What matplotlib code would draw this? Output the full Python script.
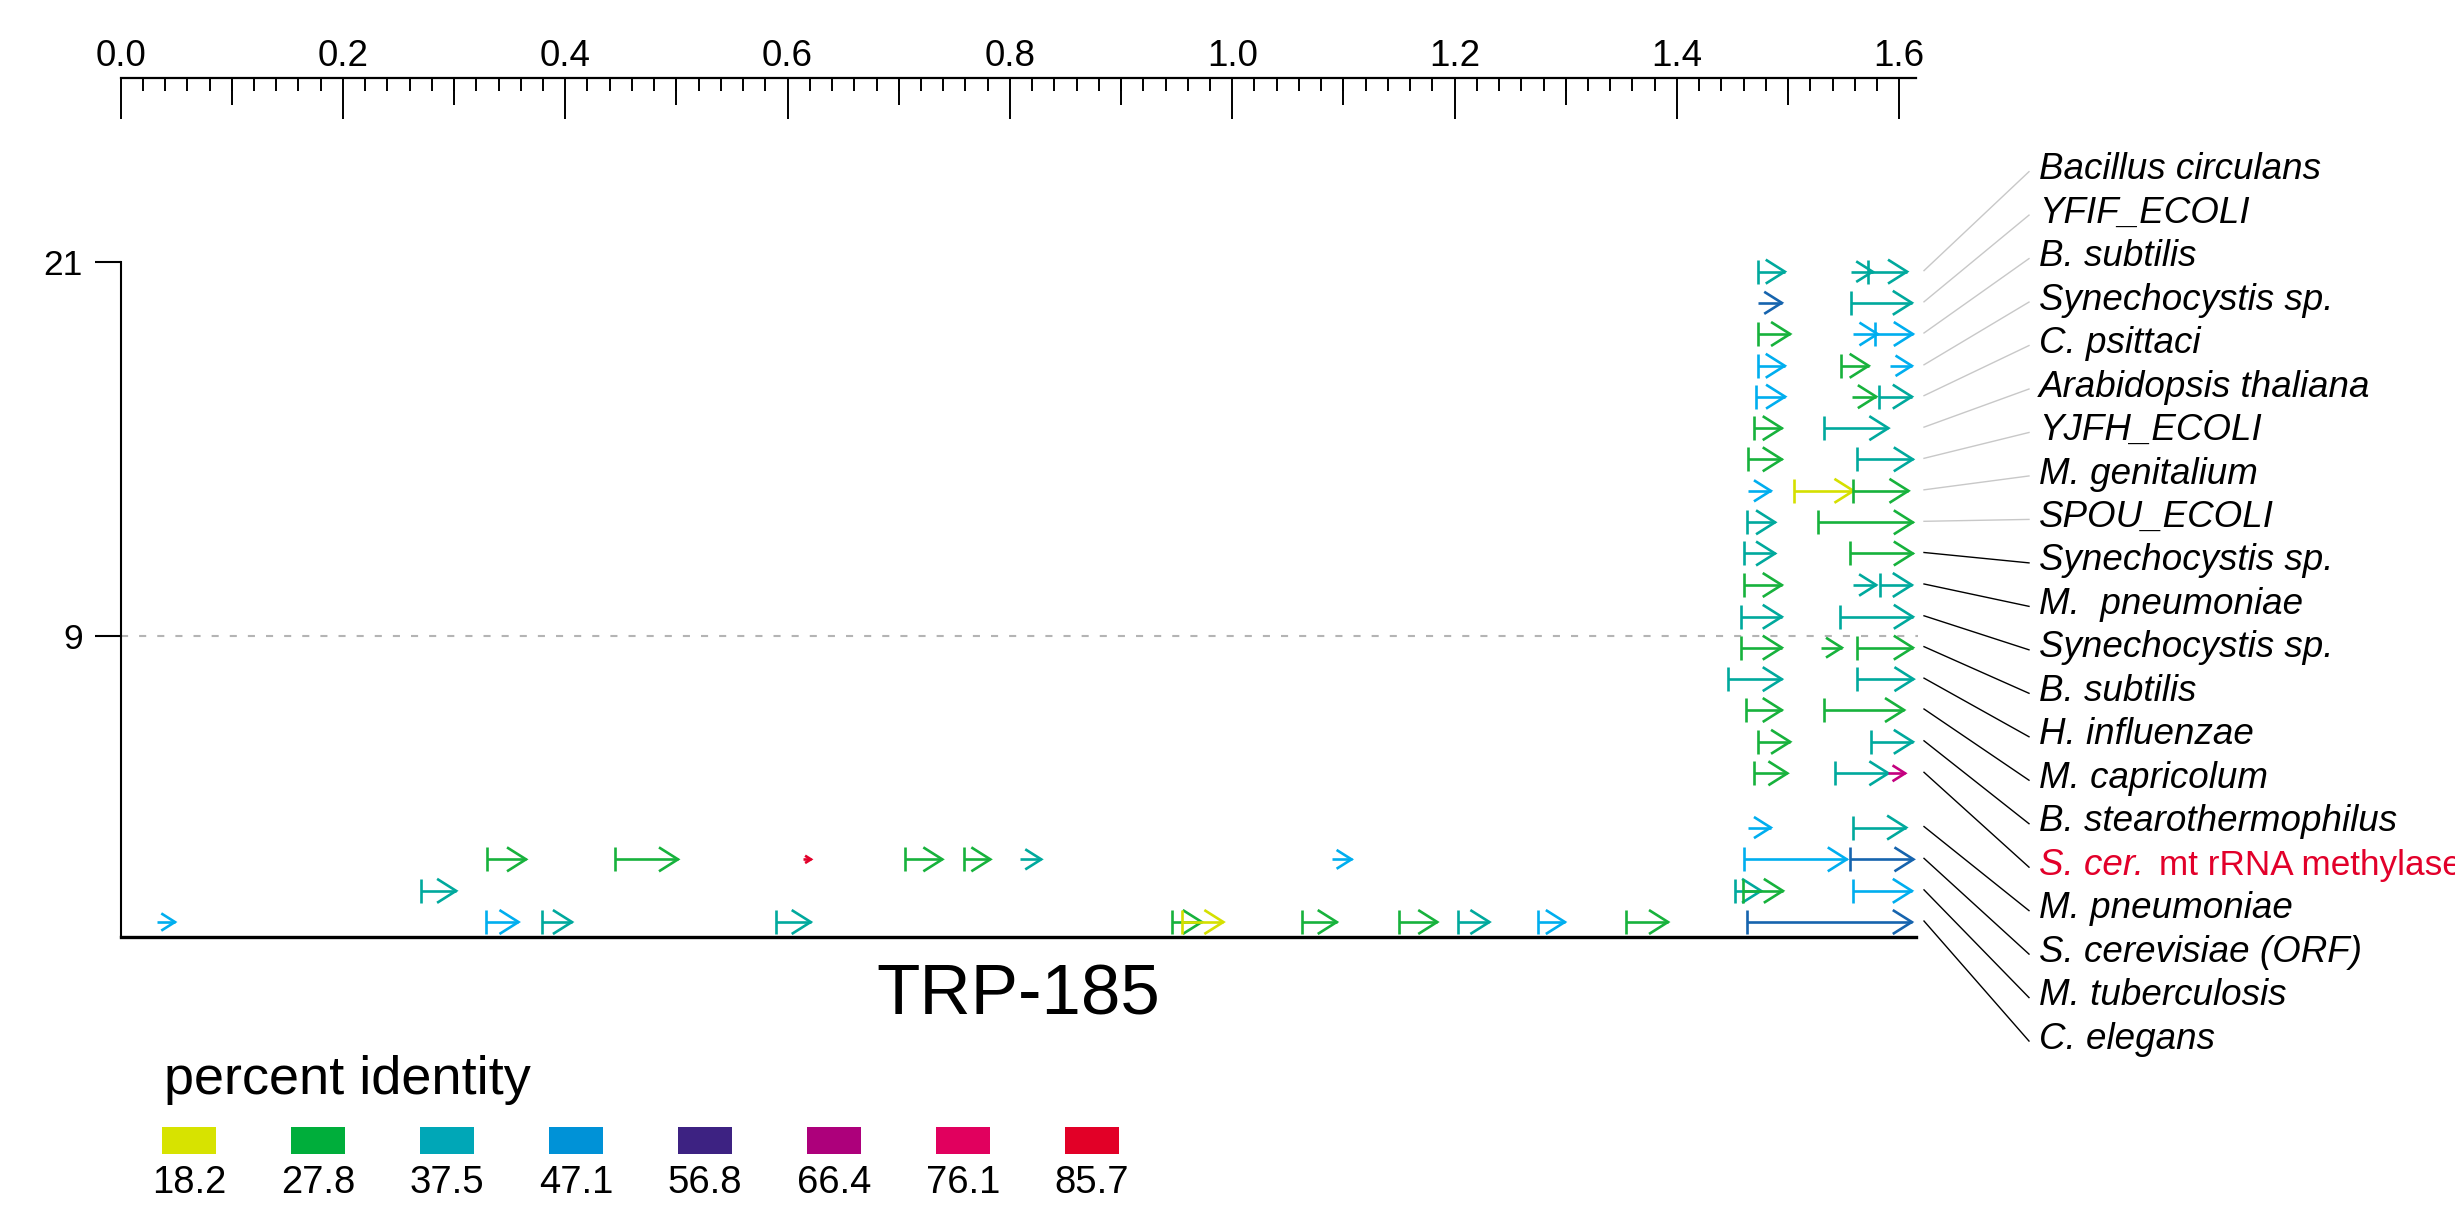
import matplotlib
matplotlib.use("Agg")
import matplotlib.pyplot as plt
import numpy as np

plt.rcParams['font.family'] = ['Liberation Sans', 'DejaVu Sans']

W, H, DPI = 2455, 1207, 100

# y position of every hit line, top to bottom
row_y = [20.68, 19.68, 18.68, 17.66, 16.67, 15.66, 14.66, 13.65, 12.64, 11.64,
         10.63, 9.61, 8.62, 7.61, 6.62, 5.60, 4.59, 2.85, 1.83, 0.82, -0.18]

labels = ["Bacillus circulans", "YFIF_ECOLI", "B. subtilis", "Synechocystis sp.",
          "C. psittaci", "Arabidopsis thaliana", "YJFH_ECOLI", "M. genitalium",
          "SPOU_ECOLI", "Synechocystis sp.", "M.  pneumoniae", "Synechocystis sp.",
          "B. subtilis", "H. influenzae", "M. capricolum", "B. stearothermophilus",
          "S. cer.", "M. pneumoniae", "S. cerevisiae (ORF)", "M. tuberculosis",
          "C. elegans"]
query_row = 16
query_suffix = "mt rRNA methylase"

pid_values = [18.2, 27.8, 37.5, 47.1, 56.8, 66.4, 76.1, 85.7]
pid_colors = ['#d7e300', '#00ae3b', '#00a7b7', '#0092d7', '#3d2282', '#ad007b', '#e1005e', '#e20027']

hit_colors = {'Y': '#d5e000', 'G': '#17b23c', 'T': '#00a99d', 'B': '#00aeef',
              'D': '#1664ae', 'M': '#c4007f', 'R': '#e2002a'}

# aligned segments: row index, start, end, identity colour, start bar
seg_row = [0, 0, 0,  1, 1,  2, 2, 2,  3, 3, 3,  4, 4, 4,  5, 5,  6, 6,  7, 7, 7,
           8, 8,  9, 9,  10, 10, 10,  11, 11,  12, 12, 12,  13, 13,  14, 14,  15, 15,
           16, 16, 16,  17, 17,
           18, 18, 18, 18, 18, 18, 18, 18, 18,
           19, 19, 19, 19,
           20, 20, 20, 20, 20, 20, 20, 20, 20, 20, 20, 20]
seg_start = [1.4733, 1.5564, 1.5717,  1.4733, 1.5568,  1.4733, 1.5588, 1.5786,
             1.4733, 1.5478, 1.5918,  1.4712, 1.5573, 1.5822,  1.4697, 1.5324,
             1.4637, 1.5618,  1.4643, 1.5057, 1.5588,  1.4628, 1.5273,  1.4607, 1.5558,
             1.4607, 1.5588, 1.5828,  1.4577, 1.5468,  1.4577, 1.5294, 1.5618,
             1.4457, 1.5618,  1.4622, 1.5327,  1.4727, 1.5747,  1.4697, 1.5423, 1.5902,
             1.4643, 1.5583,
             0.3294, 0.4450, 0.6140, 0.7057, 0.7585, 0.8090, 1.0894, 1.4607, 1.5558,
             0.2706, 1.4526, 1.4597, 1.5583,
             0.0325, 0.3285, 0.3789, 0.5900, 0.9457, 0.9547, 1.0628, 1.1501, 1.2028,
             1.2749, 1.3543, 1.4631]
seg_end = [1.4970, 1.5760, 1.6070,  1.4943, 1.6113,  1.5018, 1.5805, 1.6122,
           1.4970, 1.5725, 1.6113,  1.4973, 1.5792, 1.6113,  1.4943, 1.5902,
           1.4943, 1.6122,  1.4844, 1.5588, 1.6083,  1.4883, 1.6122,  1.4883, 1.6122,
           1.4943, 1.5792, 1.6113,  1.4943, 1.6122,  1.4943, 1.5483, 1.6122,
           1.4943, 1.6128,  1.4943, 1.6043,  1.5018, 1.6122,  1.4994, 1.5902, 1.6053,
           1.4844, 1.6062,
           0.3647, 0.5014, 0.6210, 0.7392, 0.7824, 0.8282, 1.1073, 1.5528, 1.6128,
           0.3018, 1.4757, 1.4953, 1.6113,
           0.0489, 0.3579, 0.4060, 0.6208, 0.9726, 0.9920, 1.0940, 1.1844, 1.2313,
           1.2992, 1.3920, 1.6113]
seg_col = ['T', 'T', 'T',  'D', 'T',  'G', 'B', 'B',  'B', 'G', 'B',  'B', 'G', 'T',
           'G', 'T',  'G', 'T',  'B', 'Y', 'G',  'T', 'G',  'T', 'G',  'G', 'T', 'T',
           'T', 'T',  'G', 'G', 'G',  'T', 'T',  'G', 'G',  'G', 'T',  'G', 'T', 'M',
           'B', 'T',
           'G', 'G', 'R', 'G', 'G', 'T', 'B', 'B', 'D',
           'T', 'T', 'G', 'B',
           'B', 'B', 'T', 'T', 'G', 'Y', 'G', 'G', 'T', 'B', 'G', 'D']
seg_bar = [1, 0, 1,  0, 1,  1, 0, 1,  1, 1, 0,  1, 0, 1,  1, 1,  1, 1,  0, 1, 1,
           1, 1,  1, 1,  1, 0, 1,  1, 1,  1, 0, 1,  1, 1,  1, 1,  1, 1,  1, 1, 0,
           0, 1,
           1, 1, 0, 1, 1, 0, 0, 1, 1,
           1, 1, 1, 1,
           0, 1, 1, 1, 1, 1, 1, 1, 1, 1, 1, 1]

fig = plt.figure(figsize=(W / DPI, H / DPI), dpi=DPI)
x0_px, x1_px = 120.6, 1915.9
yt_px, yb_px = 77.7, 937.3
XMAX, YMIN, YMAX = 1.615, -0.67, 26.9
ax = fig.add_axes([x0_px / W, 1 - yb_px / H, (x1_px - x0_px) / W, (yb_px - yt_px) / H])
ax.set_xlim(0, XMAX)
ax.set_ylim(YMIN, YMAX)
px_x = (x1_px - x0_px) / XMAX
px_y = (yb_px - yt_px) / (YMAX - YMIN)

LW = 1.9
for r, a, b, c, bar in zip(seg_row, seg_start, seg_end, seg_col, seg_bar):
    y = row_y[r]
    col = hit_colors[c]
    L = (b - a) * px_x
    hl = min(19.0, 0.75 * L)
    hh = hl * 0.63
    ax.plot([a, b], [y, y], color=col, lw=LW, solid_capstyle='butt')
    ax.plot([b - hl / px_x, b, b - hl / px_x], [y + hh / px_y, y, y - hh / px_y],
            color=col, lw=LW, solid_joinstyle='miter', solid_capstyle='butt')
    if bar:
        ax.plot([a, a], [y - 12 / px_y, y + 12 / px_y], color=col, lw=LW, solid_capstyle='butt')

# threshold line
ax.plot([0, 1.617], [9, 9], color='#b4b4b4', lw=1.5, ls=(0, (3.4, 5.3)), clip_on=False, zorder=0)

# axes
ax.spines['right'].set_visible(False)
ax.spines['left'].set_bounds(YMIN, 21)
ax.spines['left'].set_linewidth(1.5)
ax.spines['bottom'].set_linewidth(2.4)
ax.spines['top'].set_linewidth(1.6)
ax.xaxis.tick_top()
ax.set_xticks(np.arange(0, 1.601, 0.2))
ax.set_xticklabels([f"{v:.1f}" for v in np.arange(0, 1.601, 0.2)], fontsize=26.5)
ax.set_xticks(np.arange(0, 1.601, 0.02), minor=True)
ax.tick_params(axis='x', which='major', direction='in', length=41 / 1.389, width=1.4, pad=2.5)
ax.tick_params(axis='x', which='minor', direction='in', length=13 / 1.389, width=1.4)
ax.vlines(np.arange(0.1, 1.6, 0.2), 1 - 27.7 / (yb_px - yt_px), 1, color='black', lw=1.4,
          transform=ax.get_xaxis_transform(), clip_on=False)
ax.set_yticks([9, 21])
ax.set_yticklabels(["9", "21"], fontsize=25.5)
ax.tick_params(axis='y', direction='out', length=19, width=1.5, pad=8)

ax.text(0.5, 1 - (1014.6 - yt_px) / (yb_px - yt_px), "TRP-185", transform=ax.transAxes,
        ha='center', va='baseline', fontsize=51)

# labels and leader lines
lab_x = (2039 - x0_px) / px_x
suffix_x = (2159 - x0_px) / px_x
line_x0 = (1924 - x0_px) / px_x
line_x1 = (2029 - x0_px) / px_x
base0 = 21 - (179.3 - 261.7) / px_y
step = 43.47 / px_y
for k, lab in enumerate(labels):
    yb = base0 - k * step
    tcol = '#e2002a' if k == query_row else 'black'
    lcol = '#c8c8c8' if k < 9 else 'black'
    ax.plot([line_x0, line_x1], [row_y[k] + 1 / px_y, yb + 7.6 / px_y], color=lcol, lw=1.0,
            clip_on=False)
    ax.text(lab_x, yb, lab, style='italic', fontsize=26.5, color=tcol, va='baseline',
            clip_on=False)
    if k == query_row:
        ax.text(suffix_x, yb, query_suffix, fontsize=25.3, color=tcol, va='baseline',
                clip_on=False)

# percent identity key
fig.text(164 / W, 1 - 1094 / H, "percent identity", fontsize=39, va='baseline')
lax = fig.add_axes([124.5 / W, 1 - 1154 / H, 1032 / W, 27.3 / H])
lax.bar(range(len(pid_values)), [1] * len(pid_values), width=54.7 / 129, color=pid_colors)
lax.set_xlim(-0.5, 7.5)
lax.set_ylim(0, 1)
lax.set_xticks(range(len(pid_values)))
lax.set_xticklabels([f"{v:.1f}" for v in pid_values], fontsize=27.5)
lax.tick_params(axis='x', length=0, pad=8)
lax.set_yticks([])
for s in lax.spines.values():
    s.set_visible(False)

fig.savefig("out.png", dpi=DPI)
